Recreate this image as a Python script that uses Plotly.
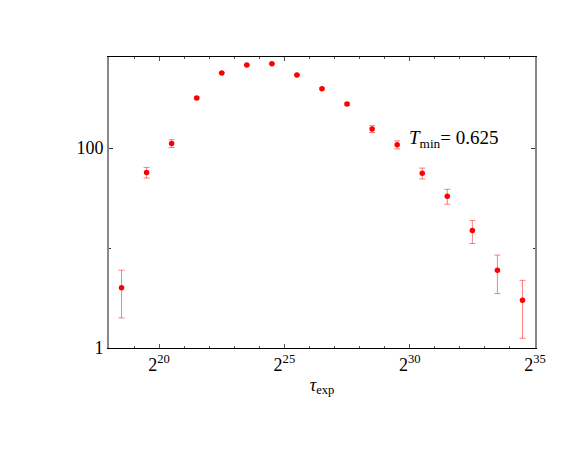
import math
import plotly.graph_objects as go

# 数据: x = 2^exponent
x_exponents = [18.5, 19.5, 20.5, 21.5, 22.5, 23.5, 24.5, 25.5, 26.5,
               27.5, 28.5, 29.5, 30.5, 31.5, 32.5, 33.5, 34.5]
y_values = [4.0, 57, 111, 316, 562, 676, 697, 537, 392,
            275, 155, 108, 56, 33, 15, 6.0, 3.0]
y_errors = [2.0, 7, 10, 8, 6, 6, 6, 8, 8,
            8, 12, 10, 7, 5.6, 3.9, 2.5, 1.75]

x_tick_exponents = [20, 25, 30, 35]
x_minor_exponents = list(range(18, 36))
y_tick_values = [1, 100]
y_minor_values = [10]

x_values = [2.0 ** e for e in x_exponents]
log2 = math.log10(2)

font_family = "Liberation Serif"

fig = go.Figure()

fig.add_trace(go.Scatter(
    x=x_values, y=y_values, mode='markers',
    marker=dict(size=5.5, color='#ff0000'),
    error_y=dict(type='data', array=y_errors, color='rgba(255,70,70,0.7)',
                 thickness=1, width=3),
    showlegend=False,
))

# 注释 (对数轴上坐标用 log10)
fig.add_annotation(
    x=30 * log2, y=2.09, xref='x', yref='y',
    text="<i>T</i><sub>min</sub>= 0.625", showarrow=False,
    xanchor='left', yanchor='middle', xshift=-3,
    font=dict(family=font_family, size=19, color='black'),
)

fig.update_layout(
    width=573, height=441,
    margin=dict(l=101, r=46, t=49, b=101),
    paper_bgcolor='white', plot_bgcolor='white',
    font=dict(family=font_family, size=18, color='black'),
    xaxis=dict(
        type='log',
        range=[18 * log2, 35 * log2],
        tickvals=[2.0 ** e for e in x_tick_exponents],
        ticktext=[f"2<sup>{e}</sup>" for e in x_tick_exponents],
        ticks='inside', ticklen=4, tickcolor='#555', tickwidth=1,
        minor=dict(tickvals=[2.0 ** e for e in x_minor_exponents],
                   ticks='inside', ticklen=2, tickcolor='#555', showgrid=False),
        showline=True, linecolor='black', linewidth=1, mirror='allticks',
        showgrid=False, zeroline=False,
        title=dict(text="<i>τ</i><sub>exp</sub>", standoff=4,
                   font=dict(family=font_family, size=18)),
    ),
    yaxis=dict(
        type='log',
        range=[0, 2.91],
        tickvals=y_tick_values,
        ticktext=[str(v) for v in y_tick_values],
        ticks='inside', ticklen=4, tickcolor='#333', tickwidth=1,
        minor=dict(tickvals=y_minor_values, ticks='inside', ticklen=2,
                   tickcolor='#333', showgrid=False),
        showline=True, linecolor='#888', linewidth=2, mirror='allticks',
        showgrid=False, zeroline=False,
    ),
)

fig.write_html("out.html")
